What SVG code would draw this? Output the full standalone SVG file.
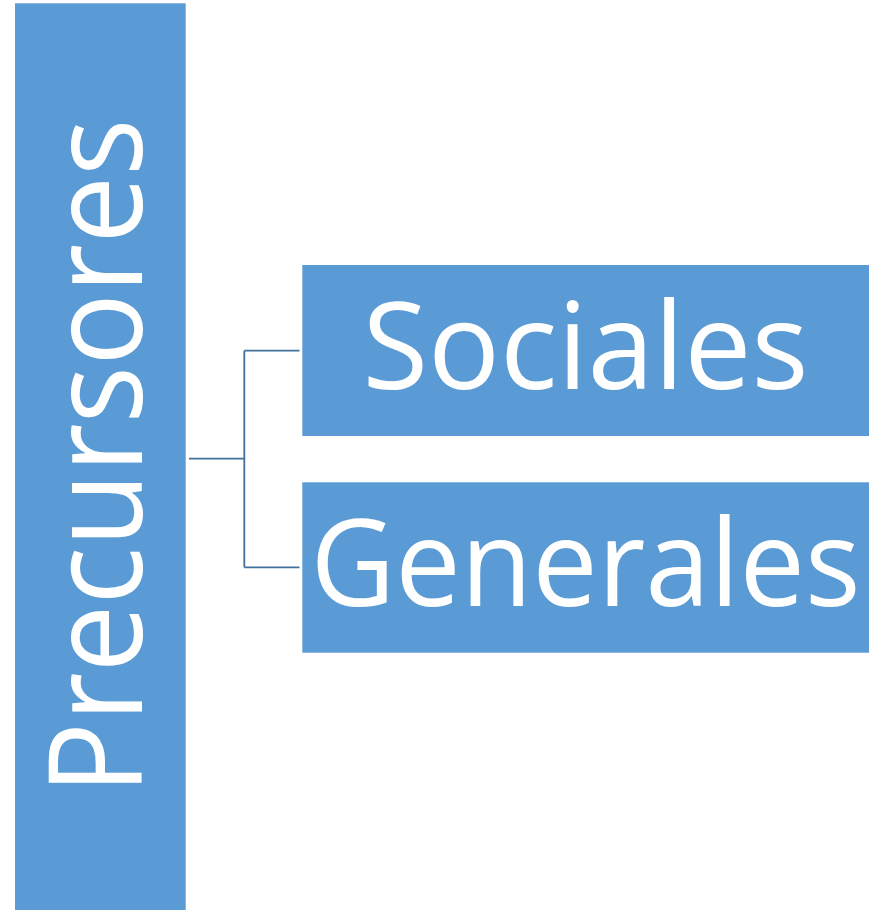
<svg xmlns="http://www.w3.org/2000/svg" width="873" height="910" viewBox="0 0 873 910">
<style>
.box{fill:#5B9BD5;}
.lbl{font-family:"Open Sans","Liberation Sans",sans-serif;fill:#FFFFFF;text-anchor:middle;}
.conn{fill:none;stroke:#41719C;stroke-width:1.8;}
</style>
<rect width="873" height="910" fill="#FFFFFF"/>
<g id="connectors">
<path class="conn" d="M189 458.7 H244.3 M244.3 350.7 V567.3 M244.3 350.7 H299.5 M244.3 567.3 H299.5"/>
</g>
<g id="precursores">
<rect class="box" x="15" y="3.3" width="170.7" height="906.7"/>
<text class="lbl" transform="translate(142,456.5) rotate(-90)" font-size="130" textLength="676" lengthAdjust="spacingAndGlyphs">Precursores</text>
</g>
<g id="sociales">
<rect class="box" x="302.3" y="265" width="566.7" height="171"/>
<text class="lbl" x="585.5" y="389" font-size="121" textLength="446" lengthAdjust="spacingAndGlyphs">Sociales</text>
</g>
<g id="generales">
<rect class="box" x="302.3" y="482.3" width="566.7" height="170.4"/>
<text class="lbl" x="585.5" y="606" font-size="120" textLength="550" lengthAdjust="spacingAndGlyphs">Generales</text>
</g>
</svg>
